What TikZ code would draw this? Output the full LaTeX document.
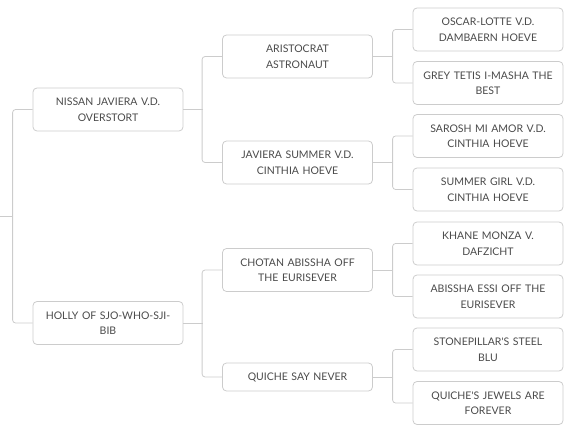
\documentclass[tikz,border=0pt]{standalone}
\usepackage{fontspec}
\setmainfont{Lato}
\usetikzlibrary{calc}
\definecolor{txt}{HTML}{4A4A4A}
\definecolor{ln}{HTML}{CCCCCC}
\tikzset{
  dog/.style={draw=ln, line width=0.8pt, rounded corners=4pt, minimum width=150pt, minimum height=43pt,
    text width=136pt, align=center, text=txt, inner sep=0pt,
    font=\fontsize{10.5}{15.5}\selectfont},
  dogs/.style={dog, minimum height=28pt},
  con/.style={draw=ln, line width=0.8pt, rounded corners=3pt},
}
\begin{document}
\begin{tikzpicture}[x=1pt,y=-1pt]
\useasboundingbox (0,0) rectangle (564,427);
% gen1
\node[dog] (n1) at (108,109.5) {NISSAN JAVIERA V.D.\\OVERSTORT};
\node[dog] (n2) at (108,323) {HOLLY OF SJO-WHO-SJI-\\BIB};
% gen2
\node[dog] (a1) at (297.5,56.5) {ARISTOCRAT\\ASTRONAUT};
\node[dog] (a2) at (297.5,162.5) {JAVIERA SUMMER V.D.\\CINTHIA HOEVE};
\node[dog] (a3) at (297.5,270) {CHOTAN ABISSHA OFF\\THE EURISEVER};
\node[dogs] (a4) at (297.5,377) {QUICHE SAY NEVER};
% gen3
\node[dog] (b1) at (488,29.5) {OSCAR-LOTTE V.D.\\DAMBAERN HOEVE};
\node[dog] (b2) at (488,83) {GREY TETIS I-MASHA THE\\BEST};
\node[dog] (b3) at (488,136) {SAROSH MI AMOR V.D.\\CINTHIA HOEVE};
\node[dog] (b4) at (488,189.5) {SUMMER GIRL V.D.\\CINTHIA HOEVE};
\node[dog] (b5) at (488,243.5) {KHANE MONZA V.\\DAFZICHT};
\node[dog] (b6) at (488,296.5) {ABISSHA ESSI OFF THE\\EURISEVER};
\node[dog] (b7) at (488,349.5) {STONEPILLAR\textquotesingle S STEEL\\BLU};
\node[dog] (b8) at (488,403) {QUICHE\textquotesingle S JEWELS ARE\\FOREVER};
% connectors
\coordinate (root) at (0,216.2);
\draw[con] (root) -- ++(13,0);
\draw[con] (n1.west) -- ++(-20,0) |- (n2.west);
\draw[con] (n1.east) -- ++(20,0);
\draw[con] (n2.east) -- ++(20,0);
\draw[con] (a1.west) -- ++(-20,0) |- (a2.west);
\draw[con] (a3.west) -- ++(-20,0) |- (a4.west);
\draw[con] (a1.east) -- ++(20.5,0);
\draw[con] (a2.east) -- ++(20.5,0);
\draw[con] (a3.east) -- ++(20.5,0);
\draw[con] (a4.east) -- ++(20.5,0);
\draw[con] (b1.west) -- ++(-20,0) |- (b2.west);
\draw[con] (b3.west) -- ++(-20,0) |- (b4.west);
\draw[con] (b5.west) -- ++(-20,0) |- (b6.west);
\draw[con] (b7.west) -- ++(-20,0) |- (b8.west);
\end{tikzpicture}
\end{document}
